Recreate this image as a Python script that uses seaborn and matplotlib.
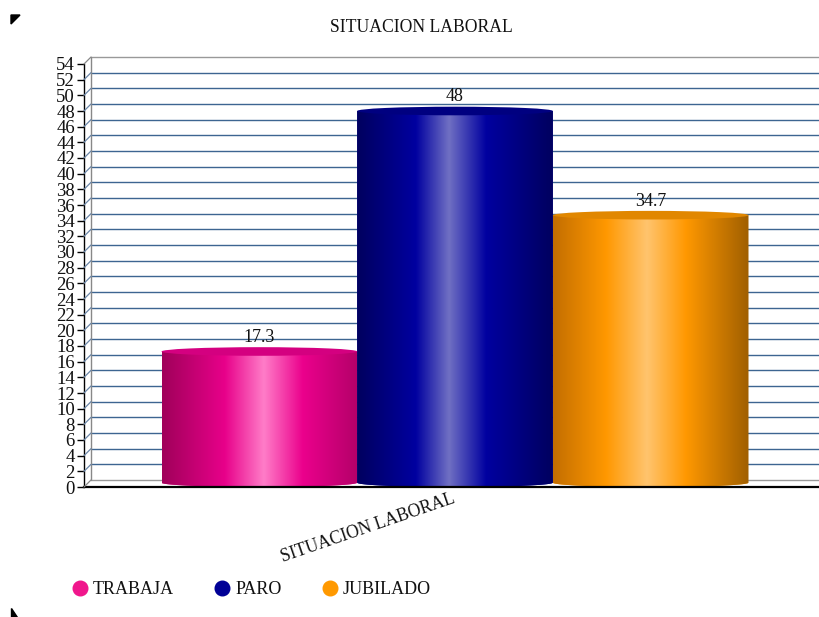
import numpy as np
import pandas as pd
import matplotlib
matplotlib.use("Agg")
import matplotlib.pyplot as plt
import seaborn as sns
from matplotlib.patches import Ellipse, PathPatch, Polygon
from matplotlib.path import Path
from matplotlib.lines import Line2D
from matplotlib.transforms import ScaledTranslation, IdentityTransform

# ---------------- data ----------------
categoria = ["SITUACION LABORAL"]
series = ["TRABAJA", "PARO", "JUBILADO"]
valores = [17.3, 48, 34.7]
yticks = list(range(0, 56, 2))
titulo = "SITUACION LABORAL"

# ---------------- styles ----------------
colores = ["#F0168C", "#000096", "#FF9900"]
stops = {
    "TRABAJA": [(0.0, (160, 0, 90)), (0.32, (232, 0, 138)), (0.52, (255, 125, 200)),
                (0.72, (235, 0, 140)), (1.0, (180, 0, 105))],
    "PARO": [(0.0, (0, 0, 95)), (0.30, (0, 0, 160)), (0.47, (112, 112, 195)),
             (0.66, (0, 0, 160)), (1.0, (0, 0, 95))],
    "JUBILADO": [(0.0, (195, 110, 0)), (0.27, (255, 152, 0)), (0.48, (255, 196, 110)),
                 (0.68, (255, 152, 0)), (1.0, (160, 95, 0))],
}
tops = {"TRABAJA": (212, 0, 128), "PARO": (0, 0, 128), "JUBILADO": (225, 135, 0)}
grid_col = "#3d6591"

sns.set_theme(style="white")
plt.rcParams['font.family'] = ['Liberation Serif', 'DejaVu Serif']

W, H = 820, 617
fig = plt.figure(figsize=(W / 100, H / 100), dpi=100)
fig.patch.set_facecolor("white")
ax = fig.add_axes([84 / W, (H - 487) / H, (W - 84) / W, 423 / H])
ax.set_facecolor("none")

df = pd.DataFrame({"cat": categoria * len(series), "serie": series, "valor": valores})
sns.barplot(data=df, x="cat", y="valor", hue="serie", hue_order=series,
            palette=colores, width=0.9, ax=ax, legend=False, saturation=1,
            edgecolor="none", linewidth=0, zorder=3)

unit_px = 587 / 0.9
xl = (-(455 - 84) / unit_px, (820 - 455) / unit_px)
ax.set_xlim(*xl)
ax.set_ylim(0, 54)

def grad_img(st, n=256):
    xs = np.linspace(0, 1, n)
    fr = [s[0] for s in st]
    arr = np.zeros((1, n, 3))
    for k in range(3):
        arr[0, :, k] = np.interp(xs, fr, [s[1][k] / 255 for s in st])
    return arr

patches = sorted(ax.patches, key=lambda p: p.get_x())
e = 0.55
for p, s in zip(patches, series):
    x0, w, h = p.get_x(), p.get_width(), p.get_height()
    xc = x0 + w / 2
    t = np.linspace(np.pi, 2 * np.pi, 60)
    verts = [(x0, h)] + [(xc + w / 2 * np.cos(tt), e + e * np.sin(tt)) for tt in t] + [(x0 + w, h), (x0, h)]
    codes = [Path.MOVETO] + [Path.LINETO] * (len(verts) - 2) + [Path.CLOSEPOLY]
    clip = PathPatch(Path(verts, codes), transform=ax.transData, facecolor="none", edgecolor="none")
    p.set_clip_path(clip)
    im = ax.imshow(grad_img(stops[s]), extent=[x0, x0 + w, 0, h], aspect="auto",
                   interpolation="bilinear", zorder=4)
    im.set_clip_path(clip)
    ax.add_patch(Ellipse((xc, h), w, 2 * e, facecolor=np.array(tops[s]) / 255,
                         edgecolor="none", zorder=5))

ax.set_xlim(*xl)
ax.set_ylim(0, 54)

# value labels
for c in ax.containers:
    ax.bar_label(c, fmt="%g", padding=4, fontsize=13, color="#111111", zorder=6)

# back wall (3D offset)
off = ScaledTranslation(7 / 100, 7 / 100, fig.dpi_scale_trans)
tb = ax.get_yaxis_transform() + off
for v in yticks:
    col = "#999999" if v in (0, 54) else grid_col
    ax.plot([0, 1], [v, v], transform=tb, clip_on=False, color=col, lw=1, zorder=1)
ax.plot([0, 0], [0, 54], transform=tb, clip_on=False, color="#888888", lw=1, zorder=1)

fig.canvas.draw()
ty = ax.get_yaxis_transform()
for v in yticks:
    p0 = ty.transform((0, v))
    fig.add_artist(Line2D([p0[0], p0[0] + 7], [p0[1], p0[1] + 7], transform=IdentityTransform(),
                          color="#6a86a8" if v not in (0, 54) else "#888888", lw=0.9, zorder=1))

# spines / ticks
for sp in ["top", "right"]:
    ax.spines[sp].set_visible(False)
ax.spines["left"].set_color("black")
ax.spines["left"].set_linewidth(1)
ax.spines["bottom"].set_color("black")
ax.spines["bottom"].set_linewidth(1.6)
ax.spines["bottom"].set_zorder(6)
ax.set_yticks(yticks)
ax.set_yticklabels([str(v) for v in yticks])
ax.tick_params(axis="y", left=True, length=5, width=1, color="black", labelsize=13.5, pad=1.5,
               labelcolor="#111111")
ax.set_xticks([0])
ax.set_xticklabels(categoria, rotation=19, ha="right", va="top", rotation_mode="anchor",
                   fontsize=12.7, color="#111111")
ax.tick_params(axis="x", length=0, pad=2)
for lab in ax.get_xticklabels():
    lab.set_transform(lab.get_transform() + ScaledTranslation(-3 / 100, 0, fig.dpi_scale_trans))
ax.set_xlabel("")
ax.set_ylabel("")
ax.grid(False)

# title
fig.text(421 / W, 1 - 28 / H, titulo, ha="center", va="center", fontsize=12.7, color="#111111")

# legend
handles = [Line2D([], [], marker="o", linestyle="none", markersize=10.5,
                  markerfacecolor=c, markeredgecolor=c) for c in colores]
fig.legend(handles, series, loc="center left", bbox_to_anchor=(55 / W, (H - 590) / H),
           ncol=3, frameon=False, fontsize=13, handlelength=1, handletextpad=0.2,
           columnspacing=2.18, labelcolor="#111111")

# corner marks
fig.add_artist(Polygon([(11 / W, 1 - 15 / H), (20 / W, 1 - 15 / H), (11 / W, 1 - 24 / H)],
                       closed=True, transform=fig.transFigure, color="black"))
fig.add_artist(Polygon([(11 / W, 1 - 608 / H), (11 / W, 1 - 617 / H), (17 / W, 1 - 617 / H)],
                       closed=True, transform=fig.transFigure, color="black"))

fig.savefig("out.png", dpi=100)
